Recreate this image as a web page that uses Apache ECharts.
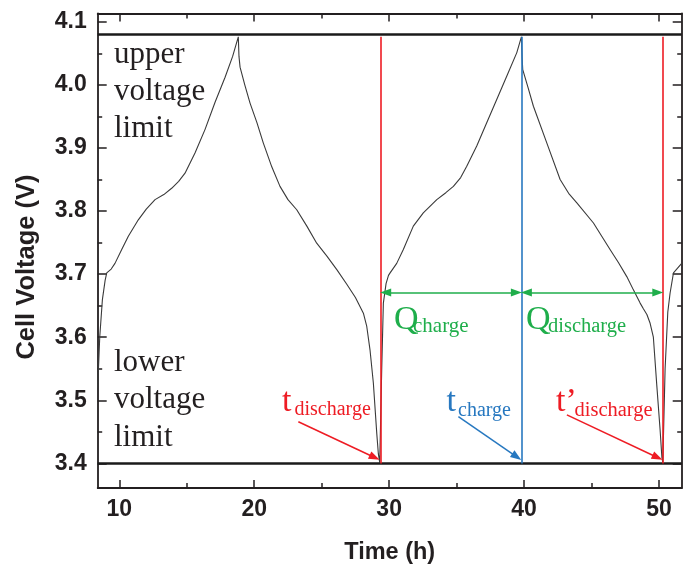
<!DOCTYPE html>
<html><head><meta charset="utf-8">
<script src="https://cdn.jsdelivr.net/npm/echarts@6/dist/echarts.min.js"></script>
<style>html,body{margin:0;padding:0;background:#fff}#c{width:689px;height:567px}</style>
</head><body><div id="c"></div>
<script>
// ---- data ----
const time = [8.4, 8.55, 8.75, 8.95, 9.07, 9.4, 9.68, 10.18, 10.67, 11.41, 12.0, 12.65, 13.3, 13.88, 14.4, 14.87, 15.61, 16.35, 17.09, 17.84, 18.4, 18.82, 18.87, 18.95, 19.3, 19.69, 20.2, 20.67, 21.3, 21.91, 22.5, 23.15, 23.9, 24.63, 25.4, 26.12, 26.86, 27.5, 28.09, 28.34, 28.58, 28.83, 29.08, 29.2, 29.3, 29.45, 29.57, 29.77, 29.95, 30.07, 30.56, 31.05, 31.79, 32.53, 33.53, 34.2, 34.76, 35.3, 35.75, 36.49, 37.23, 37.98, 38.72, 39.46, 39.8, 39.85, 39.9, 40.3, 40.69, 41.68, 42.67, 43.3, 43.91, 45.14, 46.37, 47.0, 47.61, 48.1, 48.6, 48.84, 49.1, 49.34, 49.58, 49.84, 50.08, 50.21, 50.28, 50.45, 50.65, 50.82, 51.07, 51.68];
const voltage = [3.52, 3.60, 3.66, 3.69, 3.702, 3.708, 3.717, 3.739, 3.760, 3.786, 3.803, 3.818, 3.826, 3.836, 3.847, 3.860, 3.892, 3.929, 3.972, 4.012, 4.045, 4.076, 4.045, 4.028, 4.0, 3.971, 3.94, 3.908, 3.87, 3.839, 3.818, 3.802, 3.776, 3.749, 3.728, 3.707, 3.684, 3.663, 3.638, 3.617, 3.580, 3.527, 3.448, 3.415, 3.401, 3.55, 3.654, 3.685, 3.698, 3.702, 3.717, 3.739, 3.776, 3.797, 3.818, 3.829, 3.839, 3.853, 3.871, 3.903, 3.940, 3.977, 4.014, 4.051, 4.076, 4.045, 4.024, 3.995, 3.966, 3.908, 3.850, 3.828, 3.813, 3.781, 3.739, 3.718, 3.696, 3.675, 3.654, 3.645, 3.636, 3.622, 3.600, 3.522, 3.453, 3.410, 3.401, 3.55, 3.640, 3.670, 3.702, 3.717];
const xTicks = [10, 20, 30, 40, 50];
const xMinorTicks = [15, 25, 35, 45];
const yTicks = [3.4, 3.5, 3.6, 3.7, 3.8, 3.9, 4.0, 4.1];
const yMinorTicks = [3.45, 3.55, 3.65, 3.75, 3.85, 3.95, 4.05];
const upperLimit = 4.076;
const lowerLimit = 3.4;
const tDischarge = 29.37;
const tCharge = 39.8;
const tDischarge2 = 50.28;
const qArrowLevel = 3.671;
const xTitle = 'Time (h)';
const yTitle = 'Cell Voltage (V)';

// ---- layout ----
const xMin = 8.4, xMax = 51.68, yMin = 3.361, yMax = 4.113;
const axisColor = '#231f20';
const sans = '"Liberation Sans", Arial, sans-serif';
const serif = '"Liberation Serif", "Times New Roman", serif';
const RED = '#ee1c24', BLUE = '#2778c0', GREEN = '#1fae4b';

function xAx(position, ticks, len, labels, line) {
  const a = {
    type: 'value', position, min: xMin, max: xMax,
    axisLine: {show: line, onZero: false, lineStyle: {color: axisColor, width: 1.8}},
    axisTick: {show: true, inside: true, length: len, customValues: ticks, lineStyle: {color: axisColor, width: 1.5}},
    axisLabel: labels ? {show: true, customValues: ticks, margin: 10, fontFamily: sans, fontWeight: 'bold', fontSize: 23, color: axisColor} : {show: false},
    splitLine: {show: false}
  };
  if (labels) {
    a.name = xTitle; a.nameLocation = 'middle'; a.nameGap = 53;
    a.nameTextStyle = {fontFamily: sans, fontWeight: 'bold', fontSize: 23.5, color: axisColor};
  }
  return a;
}
function yAx(position, ticks, len, labels, line) {
  return {
    type: 'value', position, min: yMin, max: yMax,
    axisLine: {show: line, onZero: false, lineStyle: {color: axisColor, width: 1.8}},
    axisTick: {show: true, inside: true, length: len, customValues: ticks, lineStyle: {color: axisColor, width: 1.5}},
    axisLabel: labels ? {show: true, customValues: ticks, margin: 11, formatter: v => v.toFixed(1), fontFamily: sans, fontWeight: 'bold', fontSize: 23, color: axisColor} : {show: false},
    splitLine: {show: false}
  };
}

const chart = echarts.init(document.getElementById('c'), null, {renderer: 'canvas'});

const lineSt = (c, w) => ({color: c, width: w, type: 'solid'});
const arrowSize = [8, 11];
const pxPerH = 13.49, pxPerV = 630;
const inset = 5 / pxPerH;

function diagArrow(tail, tip, color) {
  const dx = (tip[0] - tail[0]) * pxPerH, dy = (tip[1] - tail[1]) * pxPerV;
  const L = Math.hypot(dx, dy);
  const end = [tip[0] - 5 * dx / L / pxPerH, tip[1] - 5 * dy / L / pxPerV];
  return [
    {coord: tail, symbol: 'none', lineStyle: lineSt(color, 1.5)},
    {coord: end, symbol: 'triangle', symbolSize: arrowSize, lineStyle: lineSt(color, 1.5)}
  ];
}

const arrowTailDis = [23.27, 3.466];
const arrowTailCh = [35.13, 3.474];
const arrowTailDis2 = [43.17, 3.477];

chart.setOption({
  animation: false,
  backgroundColor: '#fff',
  grid: {left: 97.7, right: 7.3, top: 13.5, bottom: 79, outerBoundsMode: 'none'},
  xAxis: [
    xAx('bottom', xTicks, 8, true, true),
    xAx('bottom', xMinorTicks, 5, false, false),
    xAx('top', xTicks, 8, false, true),
    xAx('top', xMinorTicks, 5, false, false)
  ],
  yAxis: [
    yAx('left', yTicks, 9, true, true),
    yAx('left', yMinorTicks, 4.5, false, false),
    yAx('right', yTicks, 9, false, true),
    yAx('right', yMinorTicks, 4.5, false, false)
  ],
  series: [{
    type: 'line',
    data: time.map((t, i) => [t, voltage[i]]),
    showSymbol: false,
    symbol: 'none',
    lineStyle: {color: '#3a3a3a', width: 1.1},
    clip: true,
    z: 3,
    markLine: {
      silent: true, animation: false,
      symbol: ['none', 'none'],
      label: {show: false},
      emphasis: {disabled: true},
      data: [
        {yAxis: upperLimit, lineStyle: lineSt('#1a1a1a', 2.5)},
        {yAxis: lowerLimit, lineStyle: lineSt('#1a1a1a', 2.5)},
        [{coord: [tDischarge, lowerLimit], lineStyle: lineSt(RED, 1.6)}, {coord: [tDischarge, upperLimit], lineStyle: lineSt(RED, 1.6)}],
        [{coord: [tCharge, lowerLimit], lineStyle: lineSt(BLUE, 1.6)}, {coord: [tCharge, upperLimit], lineStyle: lineSt(BLUE, 1.6)}],
        [{coord: [tDischarge2, lowerLimit], lineStyle: lineSt(RED, 1.6)}, {coord: [tDischarge2, upperLimit], lineStyle: lineSt(RED, 1.6)}],
        [{coord: [tDischarge + inset, qArrowLevel], symbol: 'triangle', symbolSize: arrowSize, lineStyle: lineSt(GREEN, 1.5)},
         {coord: [tCharge - inset, qArrowLevel], symbol: 'triangle', symbolSize: arrowSize, lineStyle: lineSt(GREEN, 1.5)}],
        [{coord: [tCharge + inset, qArrowLevel], symbol: 'triangle', symbolSize: arrowSize, lineStyle: lineSt(GREEN, 1.5)},
         {coord: [tDischarge2 - inset, qArrowLevel], symbol: 'triangle', symbolSize: arrowSize, lineStyle: lineSt(GREEN, 1.5)}],
        diagArrow(arrowTailDis, [29.26, 3.406], RED),
        diagArrow(arrowTailCh, [39.76, 3.406], BLUE),
        diagArrow(arrowTailDis2, [50.22, 3.406], RED)
      ]
    }
  }],
  graphic: [
    {type: 'text', x: 27, y: 267, rotation: Math.PI / 2, style: {text: yTitle, fontFamily: sans, fontWeight: 'bold', fontSize: 25.5, fill: axisColor, align: 'center', verticalAlign: 'middle'}},
    {type: 'text', x: 114, y: 36, style: {text: 'upper\nvoltage\nlimit', fontFamily: serif, fontSize: 31, lineHeight: 37, fill: '#231f20', align: 'left', verticalAlign: 'top'}},
    {type: 'text', x: 114, y: 344, style: {text: 'lower\nvoltage\nlimit', fontFamily: serif, fontSize: 31, lineHeight: 37.5, fill: '#231f20', align: 'left', verticalAlign: 'top'}},
    {type: 'text', x: 282, y: 402, style: {text: 't', fontFamily: serif, fontSize: 34, fill: RED, align: 'left', verticalAlign: 'middle'}},
    {type: 'text', x: 294.5, y: 409.8, style: {text: 'discharge', fontFamily: serif, fontSize: 20, fill: RED, align: 'left', verticalAlign: 'middle'}},
    {type: 'text', x: 446.5, y: 402.5, style: {text: 't', fontFamily: serif, fontSize: 34, fill: BLUE, align: 'left', verticalAlign: 'middle'}},
    {type: 'text', x: 458, y: 410.3, style: {text: 'charge', fontFamily: serif, fontSize: 20, fill: BLUE, align: 'left', verticalAlign: 'middle'}},
    {type: 'text', x: 556, y: 402.5, style: {text: 't\u2019', fontFamily: serif, fontSize: 34, fill: RED, align: 'left', verticalAlign: 'middle'}},
    {type: 'text', x: 574.5, y: 410.3, style: {text: 'discharge', fontFamily: serif, fontSize: 20.5, fill: RED, align: 'left', verticalAlign: 'middle'}},
    {type: 'text', x: 394, y: 320.2, style: {text: 'Q', fontFamily: serif, fontSize: 34, fill: GREEN, align: 'left', verticalAlign: 'middle'}},
    {type: 'text', x: 413, y: 326.4, style: {text: 'charge', fontFamily: serif, fontSize: 21, fill: GREEN, align: 'left', verticalAlign: 'middle'}},
    {type: 'text', x: 526, y: 320.2, style: {text: 'Q', fontFamily: serif, fontSize: 34, fill: GREEN, align: 'left', verticalAlign: 'middle'}},
    {type: 'text', x: 548, y: 326.6, style: {text: 'discharge', fontFamily: serif, fontSize: 20.5, fill: GREEN, align: 'left', verticalAlign: 'middle'}}
  ]
});
</script></body></html>
